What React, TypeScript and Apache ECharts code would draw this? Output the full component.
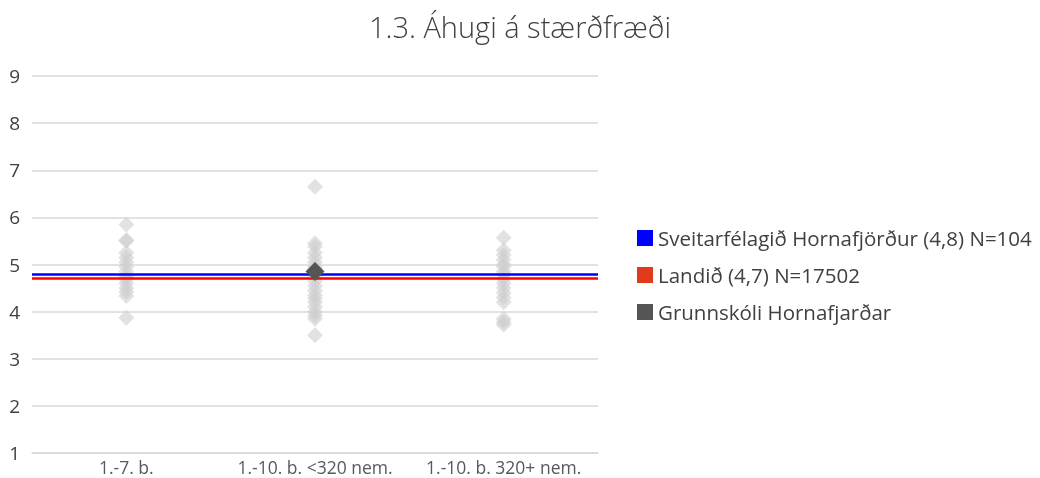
import React, { useEffect, useRef } from "react";
import * as echarts from "echarts";

const categories = ["1.-7. b.", "1.-10. b. <320 nem.", "1.-10. b. 320+ nem."];
const schoolsCat1 = [5.85, 5.52, 5.5, 5.25, 5.15, 5.05, 4.95, 4.85, 4.75, 4.7, 4.6, 4.5, 4.42, 4.33, 3.87];
const schoolsCat2 = [6.65, 5.45, 5.38, 5.25, 5.15, 5.05, 4.95, 4.9, 4.75, 4.65, 4.55, 4.45, 4.35, 4.28, 4.2, 4.1, 4.0, 3.92, 3.85, 3.5];
const schoolsCat3 = [5.57, 5.3, 5.2, 5.1, 5.0, 4.95, 4.85, 4.8, 4.7, 4.6, 4.5, 4.4, 4.3, 4.2, 3.85, 3.78, 3.72];
const highlightSchool = { name: "Grunnskóli Hornafjarðar", category: 1, value: 4.85 };
const municipality = { name: "Sveitarfélagið Hornafjörður (4,8) N=104", value: 4.8 };
const national = { name: "Landið (4,7) N=17502", value: 4.7 };
const yTicks = [1, 2, 3, 4, 5, 6, 7, 8, 9];

export default function App() {
  const ref = useRef<HTMLDivElement>(null);
  useEffect(() => {
    if (!ref.current) return;
    const chart = echarts.init(ref.current, null, { renderer: "svg" });
    const grayPoints: number[][] = [];
    [schoolsCat1, schoolsCat2, schoolsCat3].forEach((arr, i) =>
      arr.forEach((v) => grayPoints.push([i, v]))
    );
    const font = "'Open Sans', 'Noto Sans', sans-serif";
    chart.setOption({
      animation: false,
      textStyle: { fontFamily: font },
      title: {
        text: "1.3. Áhugi á stærðfræði",
        left: "center",
        top: 1,
        textStyle: { fontSize: 29, lineHeight: 40, fontWeight: 300, color: "#404040", fontFamily: font },
      },
      grid: { left: 32, right: 442, top: 76, bottom: 25 },
      legend: {
        orient: "vertical",
        left: 632,
        top: 222,
        itemGap: 15,
        itemWidth: 16,
        itemHeight: 16,
        icon: "rect",
        textStyle: { fontSize: 20.5, lineHeight: 22, color: "#404040", fontFamily: font },
        data: [
          { name: municipality.name, itemStyle: { color: "#0000ff", opacity: 1 } },
          { name: national.name, itemStyle: { color: "#e03c1c", opacity: 1 } },
          { name: highlightSchool.name, itemStyle: { color: "#555555", opacity: 1 } },
        ],
      },
      xAxis: {
        type: "category",
        data: categories,
        boundaryGap: true,
        axisLine: { lineStyle: { color: "#d9d9d9", width: 1.5 } },
        axisTick: { show: false },
        axisLabel: { interval: 0, hideOverlap: false, color: "#595959", fontSize: 17.5, lineHeight: 18, margin: 5, fontFamily: font },
      },
      yAxis: {
        type: "value",
        min: yTicks[0],
        max: yTicks[yTicks.length - 1],
        interval: 1,
        axisLine: { show: false },
        axisTick: { show: false },
        splitLine: { lineStyle: { color: "#d9d9d9", width: 1.5 } },
        axisLabel: { color: "#404040", fontSize: 19, margin: 12, fontFamily: font },
      },
      series: [
        {
          name: "schools",
          type: "scatter",
          symbol: "diamond",
          symbolSize: 16,
          data: grayPoints,
          itemStyle: { color: "#cfcfcf", opacity: 0.6 },
          z: 2,
        },
        {
          name: municipality.name,
          type: "line",
          data: [],
          color: "#0000ff",
          markLine: {
            silent: true,
            symbol: "none",
            label: { show: false },
            lineStyle: { color: "#0000ff", width: 2.5, type: "solid" },
            data: [{ yAxis: municipality.value }],
          },
          z: 3,
        },
        {
          name: national.name,
          type: "line",
          data: [],
          color: "#e03c1c",
          markLine: {
            silent: true,
            symbol: "none",
            label: { show: false },
            lineStyle: { color: "#ff0000", width: 2.5, type: "solid" },
            data: [{ yAxis: national.value }],
          },
          z: 3,
        },
        {
          name: highlightSchool.name,
          type: "scatter",
          symbol: "diamond",
          symbolSize: 19,
          data: [[highlightSchool.category, highlightSchool.value]],
          itemStyle: { color: "#555555", opacity: 1 },
          z: 5,
        },
      ],
    });
    return () => chart.dispose();
  }, []);
  return (
    <div
      ref={ref}
      style={{ position: "fixed", left: 0, top: 0, width: 1040, height: 478 }}
    />
  );
}
